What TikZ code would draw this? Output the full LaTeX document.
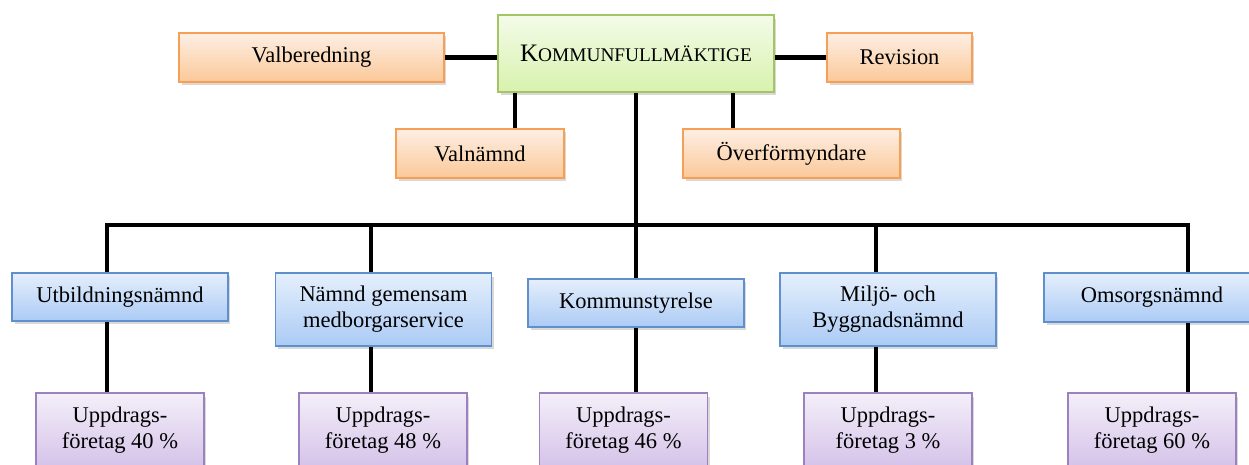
\documentclass[tikz,border=0pt]{standalone}
\usepackage{fontspec}
\setmainfont{Liberation Serif}
\usetikzlibrary{calc, shadows}
\usetikzlibrary{positioning}

\definecolor{orangeline}{HTML}{F7A055}
\definecolor{orangetop}{HTML}{FDEFE4}
\definecolor{orangebot}{HTML}{FBC898}
\definecolor{greenline}{HTML}{A5C466}
\definecolor{greentop}{HTML}{F4FBE9}
\definecolor{greenbot}{HTML}{D8F2AE}
\definecolor{blueline}{HTML}{5F90CB}
\definecolor{bluetop}{HTML}{E5EFFC}
\definecolor{bluebot}{HTML}{ABCBF5}
\definecolor{purpleline}{HTML}{9C80BF}
\definecolor{purpletop}{HTML}{F4EFF9}
\definecolor{purplebot}{HTML}{D4C2E9}

\tikzset{
  box/.style={draw, line width=1.1pt, align=center, inner sep=2pt,
    drop shadow={shadow xshift=0.05cm, shadow yshift=-0.07cm, opacity=0.3},
    font=\fontsize{12.8}{14.7}\selectfont},
  orangebox/.style={box, draw=orangeline, top color=orangetop, bottom color=orangebot, minimum height=0.98cm},
  greenbox/.style={box, draw=greenline, top color=greentop, bottom color=greenbot},
  bluebox/.style={box, draw=blueline, top color=bluetop, bottom color=bluebot, minimum width=4.32cm},
  purplebox/.style={box, draw=purpleline, top color=purpletop, bottom color=purplebot, minimum width=3.36cm, minimum height=1.5cm},
  link/.style={line width=2.7pt, line join=miter}
}

\begin{document}
\begin{tikzpicture}[x=0.02cm, y=-0.02cm]
    \clip (0,0) rectangle (1249,465);
    % top level
    \node[greenbox, minimum width=5.52cm, minimum height=1.54cm] at (636,53.5) (KF) {{\fontsize{14.3}{16}\selectfont K}{\fontsize{11}{13}\selectfont OMMUNFULLM\"AKTIGE}};
    \node[orangebox, minimum width=5.3cm] at (311.5,57.5) (VB) {Valberedning};
    \node[orangebox, minimum width=2.9cm] at (899.5,57.5) (RV) {Revision};
    \node[orangebox, minimum width=3.36cm] at (480,153.5) (VN) {Valn\"amnd};
    \node[orangebox, minimum width=4.34cm] at (791.5,153.5) (OF) {\"Overf\"ormyndare};

    % committees
    \node[bluebox, minimum height=0.96cm] at (120,297) (UN) {Utbildningsn\"amnd};
    \node[bluebox, minimum height=1.46cm] at (383.5,309.5) (NG) {N\"amnd gemensam\\medborgarservice};
    \node[bluebox, minimum height=0.96cm] at (636,303) (KS) {Kommunstyrelse};
    \node[bluebox, minimum height=1.46cm] at (888,309.5) (MB) {Milj\"o- och\\Byggnadsn\"amnd};
    \node[bluebox, minimum height=0.98cm] at (1152,297.5) (ON) {Omsorgsn\"amnd};

    % companies
    \node[purplebox] at (120,430.5) (U1) {Uppdrags-\\f\"oretag 40 \%};
    \node[purplebox] at (383,430.5) (U2) {Uppdrags-\\f\"oretag 48 \%};
    \node[purplebox] at (623.5,430.5) (U3) {Uppdrags-\\f\"oretag 46 \%};
    \node[purplebox] at (888,430.5) (U4) {Uppdrags-\\f\"oretag 3 \%};
    \node[purplebox] at (1152,430.5) (U5) {Uppdrags-\\f\"oretag 60 \%};

    % links
    \draw[link] (VB.east) -- (VB.east -| KF.west);
    \draw[link] (RV.west) -- (RV.west -| KF.east);
    \coordinate (vnx) at ($(KF.south west)+(18,0)$);
    \coordinate (ofx) at ($(KF.south east)+(-42,0)$);
    \draw[link] (vnx) -- (vnx |- VN.north);
    \draw[link] (ofx) -- (ofx |- OF.north);

    \coordinate (b1) at (107,225);
    \coordinate (b2) at (371,225);
    \coordinate (b3) at (636,225);
    \coordinate (b4) at (876,225);
    \coordinate (b5) at (1188,225);
    \draw[link] (KF.south) -- (b3);
    \draw[link] (b1 |- UN.north) -- (b1) -- (b5) -- (b5 |- ON.north);
    \foreach \b/\n in {b2/NG, b3/KS, b4/MB}
        \draw[link] (\b) -- (\b |- \n.north);
    \foreach \b/\n/\u in {b1/UN/U1, b2/NG/U2, b3/KS/U3, b4/MB/U4, b5/ON/U5}
        \draw[link] (\b |- \n.south) -- (\b |- \u.north);
\end{tikzpicture}
\end{document}
